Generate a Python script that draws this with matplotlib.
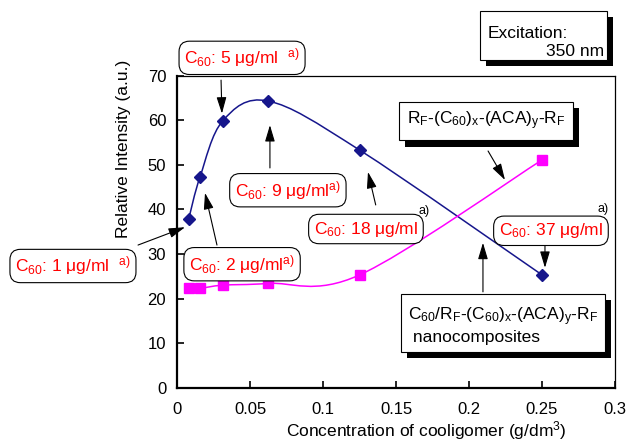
import numpy as np
import matplotlib
matplotlib.use('Agg')
import matplotlib.pyplot as plt
from matplotlib.path import Path
from matplotlib.patches import PathPatch, Rectangle
from matplotlib import patheffects as pe

plt.rcParams['font.family'] = ['Liberation Sans', 'DejaVu Sans']
plt.rcParams['mathtext.fontset'] = 'custom'
plt.rcParams['mathtext.rm'] = 'Liberation Sans'
plt.rcParams['mathtext.it'] = 'Liberation Sans:italic'
plt.rcParams['mathtext.bf'] = 'Liberation Sans:bold'

# data
conc = [0.0078, 0.0156, 0.03125, 0.0625, 0.125, 0.25]
nano = [37.8, 47.3, 59.9, 64.3, 53.3, 25.3]       # C60/RF-(C60)x-(ACA)y-RF nanocomposites
coolig = [22.3, 22.3, 23.0, 23.4, 25.3, 51.1]     # RF-(C60)x-(ACA)y-RF
xticks = [0, 0.05, 0.1, 0.15, 0.2, 0.25, 0.3]
xtick_labels = ['0', '0.05', '0.1', '0.15', '0.2', '0.25', '0.3']
yticks = [0, 10, 20, 30, 40, 50, 60, 70]

navy = '#16168c'
pink = '#ff00ff'


def smooth(x, y):
    # smoothed line as cubic bezier through the points (excel style)
    pts = np.column_stack([x, y])
    n = len(pts)
    verts = [pts[0]]
    codes = [Path.MOVETO]
    for i in range(n - 1):
        p0 = pts[max(i - 1, 0)]
        p1 = pts[i]
        p2 = pts[i + 1]
        p3 = pts[min(i + 2, n - 1)]
        verts += [p1 + (p2 - p0) / 6, p2 - (p3 - p1) / 6, p2]
        codes += [Path.CURVE4] * 3
    return Path(verts, codes)


fig = plt.figure(figsize=(6.3, 4.41), dpi=100)
ax = fig.add_axes([0.2814, 0.1209, 0.6948, 0.7075])

ax.add_patch(PathPatch(smooth(conc, nano), fill=False, ec=navy, lw=1.1, zorder=2))
ax.add_patch(PathPatch(smooth(conc, coolig), fill=False, ec=pink, lw=1.1, zorder=2))
ax.plot(conc, nano, 'D', ms=6, color=navy, zorder=3)
ax.plot(conc, coolig, 's', ms=7, color=pink, zorder=3)

ax.set_xlim(0, 0.3)
ax.set_ylim(0, 70)
ax.set_xticks(xticks)
ax.set_xticklabels(xtick_labels)
ax.set_yticks(yticks)
ax.tick_params(direction='in', length=5, width=1.2, labelsize=12,
               top=False, right=False)
ax.tick_params(axis='x', pad=10)
ax.tick_params(axis='y', pad=8)
for s in ['left', 'bottom']:
    ax.spines[s].set_linewidth(1.6)
for s in ['right', 'top']:
    ax.spines[s].set_linewidth(0.9)

ax.set_xlabel('Concentration of cooligomer (g/dm$^3$)', fontsize=12.5)
ax.xaxis.set_label_coords(0.568, -0.155)
ax.xaxis.label.set_va('baseline')
ax.set_ylabel('Relative Intensity (a.u.)', fontsize=12.5)
ax.yaxis.set_label_coords(-0.124, 0.765)
ax.yaxis.label.set_va('center')

# red concentration labels: text, box centre, arrow tail, arrow head
sup = r'$^{\mathrm{a)}}$'
labels = [
    ('C$_{60}$: 5 μg/ml  ' + sup, (0.0444, 74.0), (0.0300, 69.0), (0.0306, 61.5)),
    ('C$_{60}$: 9 μg/ml' + sup, (0.0758, 44.3), (0.0635, 49.3), (0.0635, 58.9)),
    ('C$_{60}$: 1 μg/ml  ' + sup, (-0.0715, 27.3), (-0.0269, 32.0), (0.0053, 36.0)),
    ('C$_{60}$: 2 μg/ml' + sup, (0.0444, 27.7), (0.0272, 32.0), (0.0190, 43.7)),
    ('C$_{60}$: 18 μg/ml', (0.1293, 35.6), (0.1360, 41.0), (0.1307, 48.4)),
    ('C$_{60}$: 37 μg/ml', (0.2561, 35.2), (0.2520, 31.8), (0.2520, 26.9)),
]
for txt, c, tail, head in labels:
    ax.text(c[0], c[1], txt, color='red', fontsize=12.5, ha='center', va='center',
            bbox=dict(boxstyle='round,pad=0.3,rounding_size=0.6', fc='white',
                      ec='black', lw=0.8), zorder=5)
    ax.annotate('', xy=head, xytext=tail,
                arrowprops=dict(arrowstyle='-|>,head_length=0.5,head_width=0.15',
                                color='k', lw=0.8, mutation_scale=20,
                                shrinkA=0, shrinkB=0), zorder=4)

ax.text(0.169, 39.6, 'a)', fontsize=9, ha='center', va='center')
ax.text(0.2918, 40.0, 'a)', fontsize=9, ha='center', va='center')

# black boxes with drop shadow
shadow = [pe.SimplePatchShadow(offset=(4.5, -4.5), shadow_rgbFace='k', alpha=1), pe.Normal()]

t = ax.text(0.2116, 59.8, r'R$_\mathrm{F}$-(C$_{60}$)$_\mathrm{x}$-(ACA)$_\mathrm{y}$-R$_\mathrm{F}$',
            fontsize=12.5, ha='center', va='center',
            bbox=dict(boxstyle='square,pad=0.45', fc='white', ec='black', lw=0.8), zorder=5)
t.get_bbox_patch().set_path_effects(shadow)
ax.annotate('', xy=(0.2246, 46.6), xytext=(0.2130, 53.1),
            arrowprops=dict(arrowstyle='-|>,head_length=0.5,head_width=0.15',
                            color='k', lw=0.8, mutation_scale=20, shrinkA=0, shrinkB=0))

t = ax.text(0.2232, 14.0,
            'C$_{60}$/R$_\\mathrm{F}$-(C$_{60}$)$_\\mathrm{x}$-(ACA)$_\\mathrm{y}$-R$_\\mathrm{F}$\n nanocomposites',
            fontsize=12.5, ha='center', va='center', multialignment='left', linespacing=1.1,
            bbox=dict(boxstyle='square,pad=0.4', fc='white', ec='black', lw=0.8), zorder=5)
t.get_bbox_patch().set_path_effects(shadow)
ax.annotate('', xy=(0.2095, 32.5), xytext=(0.2095, 21.5),
            arrowprops=dict(arrowstyle='-|>,head_length=0.5,head_width=0.15',
                            color='k', lw=0.8, mutation_scale=20, shrinkA=0, shrinkB=0))

# excitation box (figure coords)
r = Rectangle((480 / 630, 1 - 60 / 441), 127 / 630, 49 / 441, transform=fig.transFigure,
              fc='white', ec='black', lw=0.8)
r.set_path_effects(shadow)
fig.patches.append(r)
fig.text(488 / 630, 1 - 33 / 441, 'Excitation:', fontsize=12.5, ha='left', va='center')
fig.text(604 / 630, 1 - 51 / 441, '350 nm', fontsize=12.5, ha='right', va='center')

fig.savefig('out.png', dpi=100)
